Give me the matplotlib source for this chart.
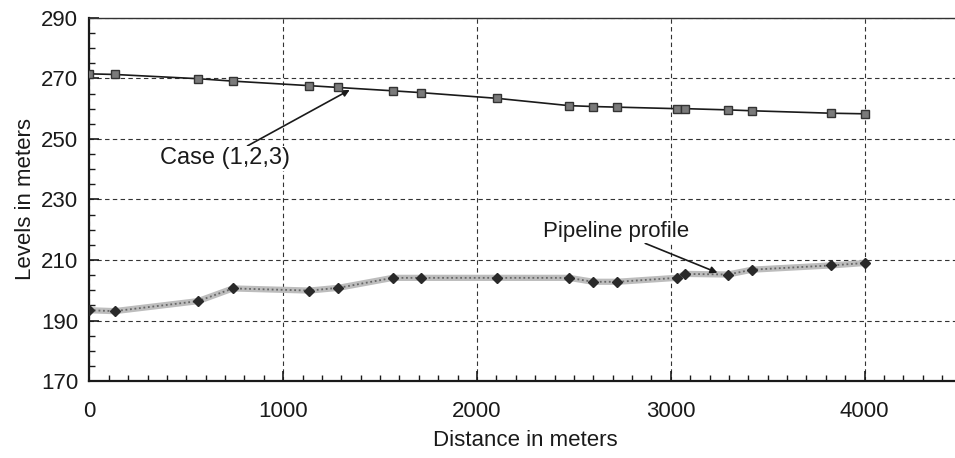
import matplotlib
matplotlib.use("Agg")
import matplotlib.pyplot as plt
from matplotlib.ticker import MultipleLocator, FixedLocator

plt.rcParams['font.family'] = ['Liberation Sans', 'DejaVu Sans']

# distance along the line (m)
distance = [0, 130, 560, 740, 1135, 1285, 1565, 1710, 2105, 2475,
            2600, 2725, 3030, 3075, 3295, 3420, 3825, 4000]
# computed levels, case (1,2,3)
case_levels = [271.5, 271.3, 269.9, 269.1, 267.6, 267.0, 265.9, 265.3, 263.4, 261.0,
               260.7, 260.5, 260.0, 260.0, 259.6, 259.3, 258.5, 258.3]
# ground / pipeline profile
pipe_levels = [193.4, 193.1, 196.4, 200.6, 199.9, 200.8, 204.1, 204.1, 204.1, 204.1,
               202.8, 202.8, 204.1, 205.4, 205.2, 206.8, 208.2, 209.0]
y_ticks = [170, 190, 210, 230, 250, 270, 290]

fig = plt.figure(figsize=(9.55, 4.58), dpi=100)
ax = fig.add_axes([0.0937, 0.168, 0.913, 0.793])

# pipeline profile: thick grey textured line with dark diamonds
ax.plot(distance, pipe_levels, color='#bdbdbd', lw=4.5, zorder=2)
ax.plot(distance, pipe_levels, color='#666666', lw=1.3, ls=(0, (1, 1.5)), zorder=3)
ax.plot(distance, pipe_levels, ls='none', marker='D', ms=5, color='#2a2a2a', zorder=4)

# case line with grey squares
ax.plot(distance, case_levels, color='#1a1a1a', lw=1.2, zorder=3)
ax.plot(distance, case_levels, ls='none', marker='s', ms=5.5, mfc='#7a7a7a',
        mec='#333333', mew=1, zorder=4)

ax.set_xlim(0, 4500)
ax.set_ylim(170, 290)
ax.xaxis.set_major_locator(MultipleLocator(1000))
ax.xaxis.set_minor_locator(MultipleLocator(100))
ax.yaxis.set_major_locator(FixedLocator(y_ticks))
ax.yaxis.set_minor_locator(MultipleLocator(5))
ax.tick_params(which='both', direction='in', colors='#1a1a1a', labelsize=16)
ax.tick_params(which='major', length=7, width=1.2)
ax.tick_params(which='minor', length=4, width=1)
ax.tick_params(axis='x', pad=14)
ax.tick_params(axis='y', pad=8)

ax.grid(True, which='major', ls=(0, (4, 3)), color='#333333', lw=0.8)

for side in ['left', 'bottom']:
    ax.spines[side].set_linewidth(1.6)
    ax.spines[side].set_color('#1a1a1a')
ax.spines['right'].set_visible(False)
ax.spines['top'].set_linestyle((0, (1, 1)))
ax.spines['top'].set_linewidth(1)
ax.spines['top'].set_color('#333333')

ax.set_xlabel('Distance in meters', fontsize=16, color='#1a1a1a', labelpad=6)
ax.set_ylabel('Levels in meters', fontsize=16, color='#1a1a1a', labelpad=4)

ax.annotate('Case (1,2,3)', xy=(1343, 266.2), xytext=(1034, 243.6),
            fontsize=17, color='#1a1a1a', ha='right', va='center',
            bbox=dict(fc='white', ec='none', pad=1),
            arrowprops=dict(arrowstyle='-|>', color='#1a1a1a', lw=1.2,
                            shrinkA=0, shrinkB=0, mutation_scale=10))
ax.annotate('Pipeline profile', xy=(3241, 205.8), xytext=(3095, 219.4),
            fontsize=16, color='#1a1a1a', ha='right', va='center',
            bbox=dict(fc='white', ec='none', pad=1),
            arrowprops=dict(arrowstyle='-|>', color='#1a1a1a', lw=1.2,
                            shrinkA=0, shrinkB=0, mutation_scale=10))

fig.savefig('out.png', dpi=100)
